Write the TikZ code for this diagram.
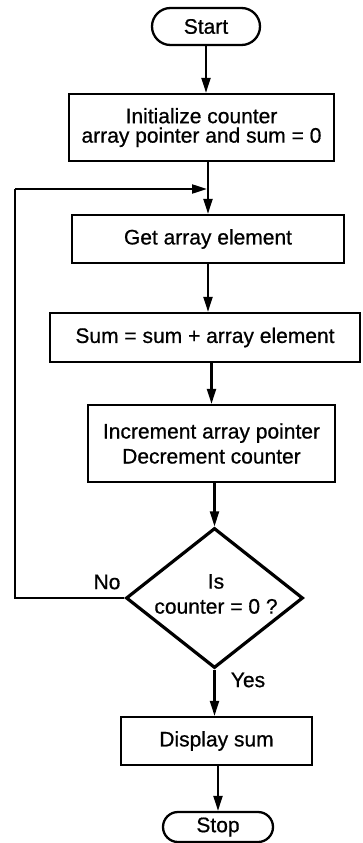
\documentclass[tikz,border=0pt]{standalone}
\usepackage{fontspec}
\setmainfont{Liberation Sans}[FakeBold=0.7]
\usetikzlibrary{shapes.geometric,shapes.misc,arrows.meta}
\begin{document}
\begin{tikzpicture}[x=1pt,y=-1pt,
  every node/.style={font=\fontsize{21}{25}\selectfont, inner sep=0pt, align=center},
  procbox/.style={draw, line width=2.3pt, rectangle},
  termbox/.style={draw, line width=2.3pt, rounded rectangle},
  decbox/.style={draw, line width=3.2pt, diamond},
  flow/.style={line width=2.1pt, -{Triangle[length=15pt,width=9pt]}},
  plain/.style={line width=2.1pt},
  lbl/.style={font=\fontsize{21}{25}\selectfont}]
\useasboundingbox (0,0) rectangle (362,843);

% terminals, process boxes and the decision
\node[termbox, minimum width=108pt, minimum height=37pt] (start) at (206,26.5) {Start};
\node[procbox, minimum width=265pt, minimum height=67pt] (init) at (201.5,127.5)
  {\raisebox{-5pt}{\shortstack{Initialize counter\\[1pt]array pointer and sum = 0}}};
\node[procbox, minimum width=272pt, minimum height=48pt] (get) at (208,239) {Get array element};
\node[procbox, minimum width=310pt, minimum height=49pt] (sum) at (205,337.5) {Sum = sum + array element};
\node[procbox, minimum width=247pt, minimum height=77pt] (inc) at (211.5,443.5)
  {Increment array pointer\\Decrement counter};
\node[decbox, minimum width=177pt, minimum height=140pt] (dec) at (214.5,598) {};
\node (dectext) at (216,594) {Is\\counter = 0 ?};
\node[procbox, minimum width=191pt, minimum height=48pt] (disp) at (216.5,741) {Display sum};
\node[termbox, minimum width=110pt, minimum height=30pt] (stop) at (218,827) {Stop};

% branch labels
\node[lbl] (no) at (107,582) {No};
\node[lbl] (yes) at (248,680) {Yes};

% main flow
\draw[flow] (start.south) -- (start.south |- init.north);
\draw[flow] (get.north |- init.south) -- (get.north);
\draw[flow] (get.south) -- (get.south |- sum.north);
\draw[flow] (inc.north |- sum.south) -- (inc.north);
\draw[flow] (dec.north |- inc.south) -- (dec.north);
\draw[flow] (dec.south) -- (dec.south |- disp.north);
\draw[flow] (stop.north |- disp.south) -- (stop.north);

% loop back on "No"
\coordinate (lc) at (15,189);
\draw[plain] (dec.west) -| (lc);
\draw[flow] (lc) -- ([xshift=-1pt]get.north |- lc);
\end{tikzpicture}
\end{document}
